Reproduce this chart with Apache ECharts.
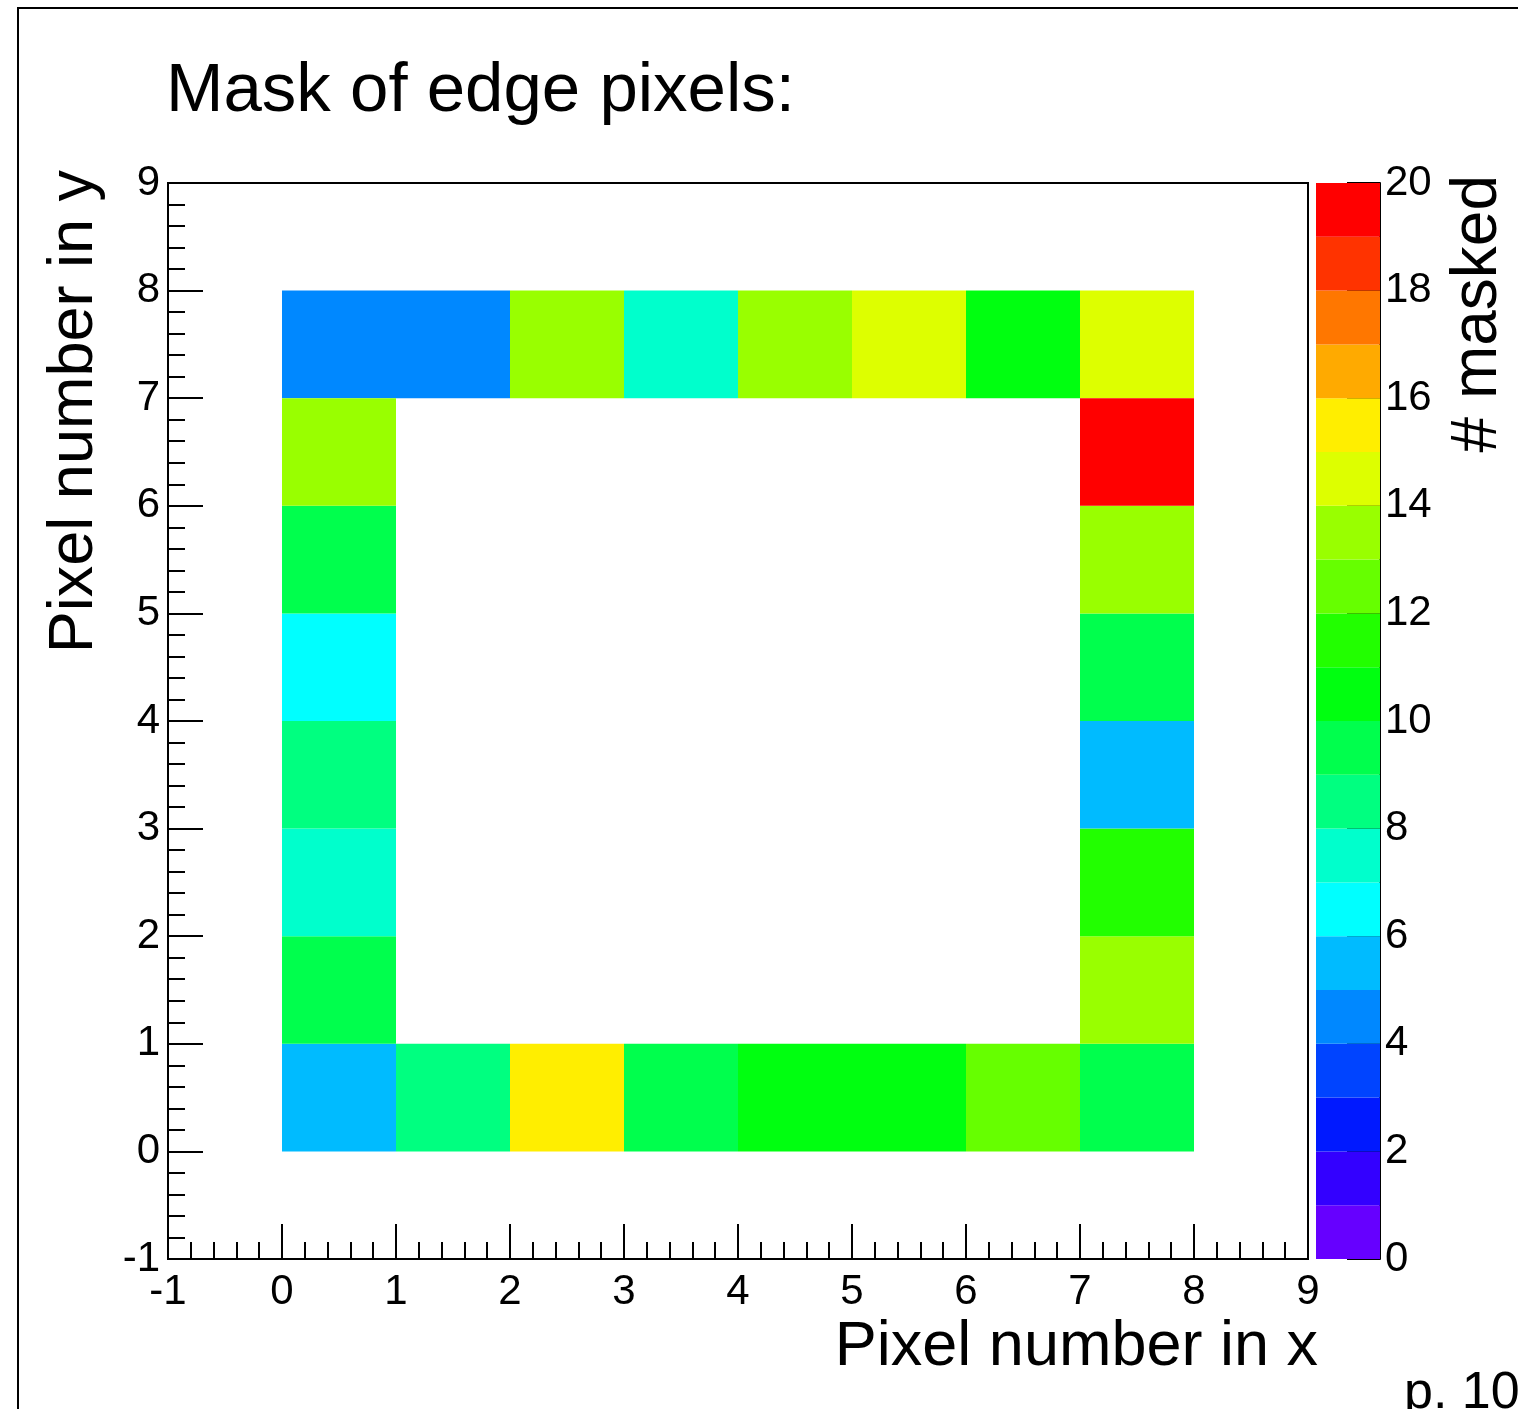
<!DOCTYPE html>
<html>
<head>
<meta charset="utf-8">
<title>Mask of edge pixels</title>
<script src="https://cdn.jsdelivr.net/npm/echarts@6/dist/echarts.min.js"></script>
<style>
  html, body { margin: 0; padding: 0; background: #fff; }
  #chart { width: 1518px; height: 1409px; }
</style>
</head>
<body>
<div id="chart"></div>
<script>
// Colour palette: one colour per unit of "# masked", from 0 up to 20
const palette = [
  '#6600ff', '#3300ff', '#0019ff', '#0044ff', '#0088ff',
  '#00bbff', '#00ffff', '#00ffcc', '#00ff80', '#00ff4d',
  '#00ff10', '#22ff00', '#66ff00', '#99ff00', '#ddff00',
  '#ffee00', '#ffaa00', '#ff7700', '#ff3300', '#ff0000'
];

// Masked counts of the edge pixels
const topRowCounts      = [4, 4, 13, 7, 13, 14, 10, 14]; // y = 7, x = 0..7
const bottomRowCounts   = [5, 8, 15, 9, 10, 10, 12, 9];  // y = 0, x = 0..7
const leftColumnCounts  = [9, 7, 8, 6, 9, 13];           // x = 0, y = 1..6
const rightColumnCounts = [13, 11, 5, 9, 13, 19];        // x = 7, y = 1..6

// Axis ranges
const pixelAxisMin = -1, pixelAxisMax = 9;
const countMin = 0, countMax = 20;

// Build [x, y, count] cells from the four edges
const cells = [];
topRowCounts.forEach((v, i) => cells.push([i, 7, v]));
bottomRowCounts.forEach((v, i) => cells.push([i, 0, v]));
leftColumnCounts.forEach((v, i) => cells.push([0, i + 1, v]));
rightColumnCounts.forEach((v, i) => cells.push([7, i + 1, v]));

// Colour-bar bands [lower edge, upper edge]
const bands = palette.map((c, i) => [i, i + 1]);

const FONT = '"Liberation Sans", Arial, Helvetica, sans-serif';

const chart = echarts.init(document.getElementById('chart'), null, { renderer: 'canvas' });

const axisLineStyle = { color: '#000', width: 2 };

chart.setOption({
  backgroundColor: '#fff',
  animation: false,
  title: {
    text: 'Mask of edge pixels:',
    left: 166,
    top: 57,
    padding: 0,
    textStyle: { fontFamily: FONT, fontSize: 69, fontWeight: 'normal', color: '#000', lineHeight: 69 }
  },
  grid: [
    { left: 168, top: 183, width: 1140, height: 1076, show: true, borderColor: '#000', borderWidth: 2, backgroundColor: 'transparent' },
    { left: 1316, top: 183, width: 64, height: 1076, show: false }
  ],
  xAxis: [
    {
      gridIndex: 0, type: 'value', min: pixelAxisMin, max: pixelAxisMax, interval: 1,
      axisLine: { show: true, onZero: false, lineStyle: axisLineStyle },
      axisTick: { show: true, inside: true, length: 35, lineStyle: axisLineStyle },
      minorTick: { show: true, splitNumber: 5, length: 17, lineStyle: axisLineStyle },
      splitLine: { show: false },
      axisLabel: { fontFamily: FONT, fontSize: 42, color: '#000', margin: 12, showMinLabel: true, showMaxLabel: true }
    },
    { gridIndex: 1, type: 'value', min: 0, max: 1, show: false }
  ],
  yAxis: [
    {
      gridIndex: 0, type: 'value', min: pixelAxisMin, max: pixelAxisMax, interval: 1,
      axisLine: { show: true, onZero: false, lineStyle: axisLineStyle },
      axisTick: { show: true, inside: true, length: 35, lineStyle: axisLineStyle },
      minorTick: { show: true, splitNumber: 5, length: 17, lineStyle: axisLineStyle },
      splitLine: { show: false },
      axisLabel: { fontFamily: FONT, fontSize: 42, color: '#000', margin: 8, showMinLabel: true, showMaxLabel: true }
    },
    {
      gridIndex: 1, type: 'value', min: countMin, max: countMax, interval: 2, position: 'right',
      axisLine: { show: true, onZero: false, lineStyle: axisLineStyle },
      axisTick: { show: true, inside: true, length: 33, lineStyle: axisLineStyle },
      splitLine: { show: false },
      axisLabel: { fontFamily: FONT, fontSize: 42, color: '#000', margin: 5, showMinLabel: true, showMaxLabel: true }
    }
  ],
  visualMap: {
    type: 'piecewise',
    show: false,
    seriesIndex: 0,
    dimension: 2,
    pieces: palette.map((c, i) => ({ gte: i, lt: i + 1, color: c }))
  },
  series: [
    {
      name: '# masked',
      type: 'custom',
      xAxisIndex: 0, yAxisIndex: 0,
      data: cells,
      renderItem: function (params, api) {
        const x = api.value(0), y = api.value(1);
        const p0 = api.coord([x, y]);
        const p1 = api.coord([x + 1, y + 1]);
        return {
          type: 'rect',
          shape: { x: p0[0], y: p1[1], width: p1[0] - p0[0], height: p0[1] - p1[1] },
          style: { fill: api.visual('color'), stroke: null }
        };
      },
      z: 1
    },
    {
      name: 'palette',
      type: 'custom',
      xAxisIndex: 1, yAxisIndex: 1,
      data: bands,
      renderItem: function (params, api) {
        const lo = api.value(0), hi = api.value(1);
        const p0 = api.coord([0, lo]);
        const p1 = api.coord([1, hi]);
        return {
          type: 'rect',
          shape: { x: p0[0], y: p1[1], width: p1[0] - p0[0], height: p0[1] - p1[1] },
          style: { fill: palette[params.dataIndex], stroke: null }
        };
      },
      z: 1
    }
  ],
  graphic: [
    {
      type: 'rect', silent: true,
      shape: { x: 18, y: 8, width: 2000, height: 2000 },
      style: { fill: 'none', stroke: '#000', lineWidth: 2 }
    },
    {
      type: 'text', x: 1318, y: 1348,
      style: { text: 'Pixel number in x', font: '63px ' + FONT, fill: '#000',
               align: 'right', verticalAlign: 'middle', textAlign: 'right', textVerticalAlign: 'middle' }
    },
    {
      type: 'text', x: 75, y: 170, rotation: Math.PI / 2,
      style: { text: 'Pixel number in y', font: '63px ' + FONT, fill: '#000',
               align: 'right', verticalAlign: 'middle', textAlign: 'right', textVerticalAlign: 'middle' }
    },
    {
      type: 'text', x: 1478, y: 175, rotation: Math.PI / 2,
      style: { text: '# masked', font: '64px ' + FONT, fill: '#000',
               align: 'right', verticalAlign: 'middle', textAlign: 'right', textVerticalAlign: 'middle' }
    },
    {
      type: 'text', x: 1404, y: 1394,
      style: { text: 'p. 10', font: '52px ' + FONT, fill: '#000',
               align: 'left', verticalAlign: 'middle', textAlign: 'left', textVerticalAlign: 'middle' }
    }
  ]
});
</script>
</body>
</html>
